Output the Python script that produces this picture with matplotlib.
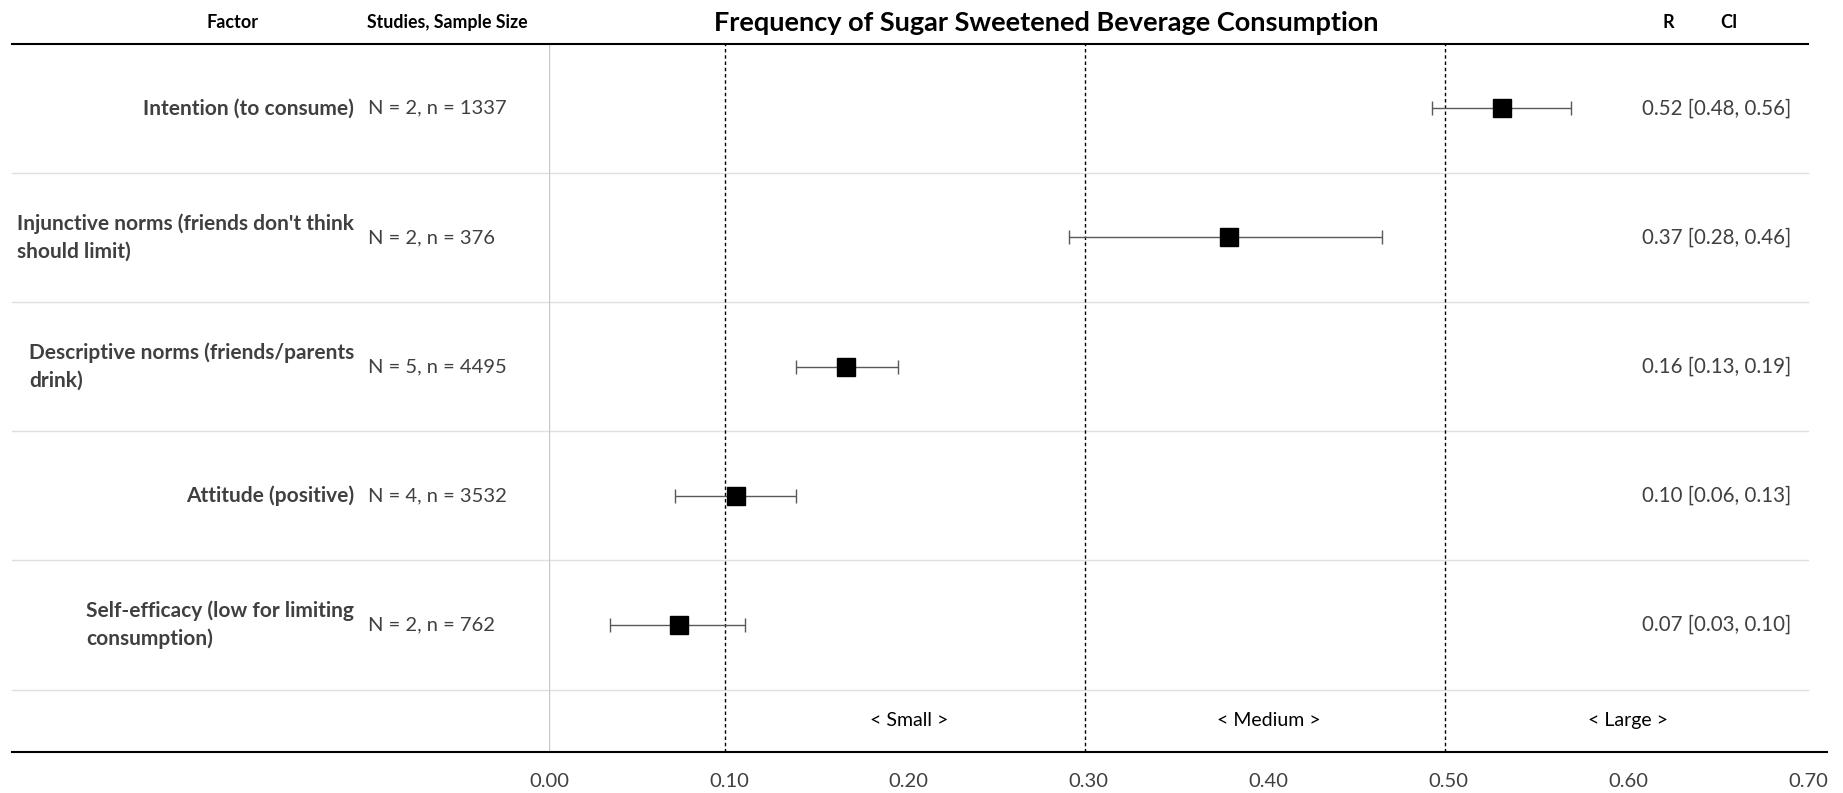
import matplotlib
matplotlib.use("Agg")
import matplotlib.pyplot as plt

# data
factors = [
    "Intention (to consume)",
    "Injunctive norms (friends don't think\nshould limit)",
    "Descriptive norms (friends/parents\ndrink)",
    "Attitude (positive)",
    "Self-efficacy (low for limiting\nconsumption)",
]
studies = ["N = 2, n = 1337", "N = 2, n = 376", "N = 5, n = 4495", "N = 4, n = 3532", "N = 2, n = 762"]
r_est = [0.530, 0.378, 0.165, 0.104, 0.072]
ci_low = [0.491, 0.289, 0.137, 0.070, 0.034]
ci_high = [0.568, 0.463, 0.194, 0.137, 0.109]
r_ci_text = ["0.52 [0.48, 0.56]", "0.37 [0.28, 0.46]", "0.16 [0.13, 0.19]",
             "0.10 [0.06, 0.13]", "0.07 [0.03, 0.10]"]
effect_bounds = [0.1, 0.3, 0.5]
effect_labels = ["< Small >", "< Medium >", "< Large >"]
effect_pos = [0.2, 0.4, 0.6]
x_ticks = [0.0, 0.1, 0.2, 0.3, 0.4, 0.5, 0.6, 0.7]

plt.rcParams['font.family'] = ['Lato', 'DejaVu Sans']

fig = plt.figure(figsize=(18.43, 7.93), dpi=100)
ax = fig.add_axes([0.298, 0.052, 0.683, 0.893])

n = len(factors)
ypos = [n - i for i in range(n)]  # 5 .. 1
ax.set_xlim(0, 0.7)
ax.set_ylim(0.018, n + 0.5)

text_col = "#404040"
ytr = ax.get_yaxis_transform()

# row separators
for b in [k + 0.5 for k in range(n)]:
    ax.plot([-0.427, 1.0], [b, b], transform=ytr, color="#e0e0e0", lw=1, clip_on=False, zorder=0)
# top and bottom rules
ax.plot([-0.427, 1.0], [n + 0.5, n + 0.5], transform=ytr, color="black", lw=1.5, clip_on=False)
ax.plot([-0.427, 1.015], [0.018, 0.018], transform=ytr, color="black", lw=1.5, clip_on=False)

# zero line and effect-size boundaries
ax.axvline(0, color="#c8c8c8", lw=1, zorder=0)
for xb in effect_bounds:
    ax.axvline(xb - 0.002, color="black", lw=1, ls=(0, (2.5, 2)), zorder=1)

# error bars and squares
ax.errorbar(r_est, ypos,
            xerr=[[r - lo for r, lo in zip(r_est, ci_low)], [hi - r for r, hi in zip(r_est, ci_high)]],
            fmt="s", color="black", ms=13, ecolor="#595959", elinewidth=1, capsize=5, capthick=1, zorder=3)

for y, f, s, t in zip(ypos, factors, studies, r_ci_text):
    ax.text(-0.155, y, f, transform=ytr, ha="right", va="center", multialignment="left",
            fontsize=15, fontweight="bold", color=text_col, linespacing=1.45)
    ax.text(-0.144, y, s, transform=ytr, ha="left", va="center", fontsize=14.5, color=text_col)
    ax.text(0.987, y, t, transform=ytr, ha="right", va="center", fontsize=14.8, color=text_col)

for xl, lab in zip(effect_pos, effect_labels):
    ax.text(xl, 0.26, lab, ha="center", va="center", fontsize=14, color="black")

# header
hy = n + 0.5 + 0.16
ax.text(-0.252, hy, "Factor", transform=ytr, ha="center", va="center", fontsize=13, fontweight="bold")
ax.text(-0.081, hy, "Studies, Sample Size", transform=ytr, ha="center", va="center", fontsize=12.8, fontweight="bold")
ax.text(0.395, hy, "Frequency of Sugar Sweetened Beverage Consumption", transform=ytr,
        ha="center", va="center", fontsize=19.5, fontweight="bold")
ax.text(0.889, hy, "R", transform=ytr, ha="center", va="center", fontsize=13, fontweight="bold")
ax.text(0.937, hy, "CI", transform=ytr, ha="center", va="center", fontsize=13, fontweight="bold")

ax.set_xticks(x_ticks)
ax.set_xticklabels([f"{v:.2f}" for v in x_ticks], fontsize=14.5, color=text_col)
ax.tick_params(axis="x", length=0, pad=15)
ax.set_yticks([])
for sp in ax.spines.values():
    sp.set_visible(False)

fig.savefig("out.png", dpi=100)
